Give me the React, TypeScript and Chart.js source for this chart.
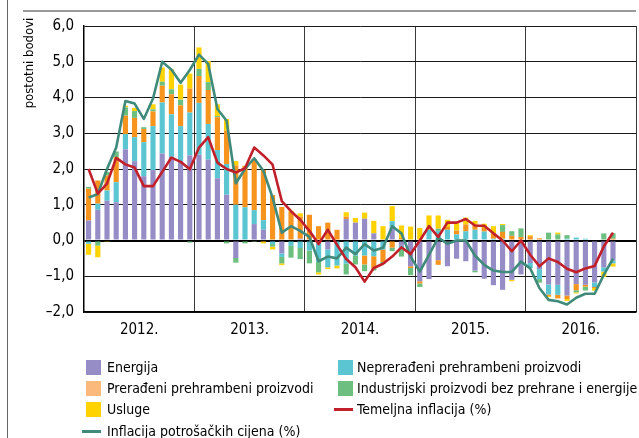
import { useEffect, useRef } from 'react';
import { Chart, registerables } from 'chart.js';

Chart.register(...registerables);

const years = ['2012.', '2013.', '2014.', '2015.', '2016.'];
const monthNames = ['sij', 'velj', 'ožu', 'tra', 'svi', 'lip', 'srp', 'kol', 'ruj', 'lis', 'stu', 'pro'];
const months = years.flatMap((y) => monthNames.map((m) => `${m} ${y}`));

const yTicks = [-2, -1, 0, 1, 2, 3, 4, 5, 6];

const energija = [
  0.56, 0.86, 1.11, 1.07, 2.55, 2.22, 1.8, 1.97, 2.43, 2.34, 2.22, 2.38,
  2.4, 2.26, 1.74, 1.28, -0.49, 0, 0.46, 0.3, 0, -0.36, 0, 0.05,
  0, 0, -0.25, 0, 0.6, 0.5, 0.61, 0.2, 0, 0.37, -0.15, -0.72,
  -1.14, -1.08, -0.55, -0.72, -0.51, -0.58, -0.84, -1.07, -1.25, -1.38, -1.1, -0.95,
  -0.63, -0.8, -1.23, -1.24, -1.54, -1.22, -1.24, -1.17, -0.75, -0.56,
];
const neprerađeni = [
  -0.09, 0.17, 0.29, 0.56, 0.43, 0.67, 0.95, 1.23, 1.43, 1.19, 0.98, 1.2,
  1.45, 1.0, 0.79, 0.86, 1.0, 0.93, 0.39, 0.27, -0.1, -0.1, -0.15, -0.21,
  -0.28, -0.6, -0.5, -0.7, -0.65, -0.42, -0.42, -0.44, -0.25, 0.17, -0.1, 0,
  0, 0.3, 0.27, 0.3, 0.17, 0.26, 0.3, 0.25, 0.05, 0.05, 0, 0,
  -0.14, -0.28, -0.28, -0.28, 0.05, 0.08, 0.05, -0.13, -0.12, -0.08,
];
const prerađeni = [
  0.89, 0.65, 0.42, 0.7, 0.51, 0.54, 0.37, 0.41, 0.47, 0.56, 0.58, 0.67,
  0.75, 0.95, 0.92, 0.93, 1.1, 1.16, 1.43, 1.4, 1.27, 0.94, 0.8, 0.62,
  0.72, 0.4, 0.5, 0.3, 0.07, 0, -0.25, -0.35, -0.35, -0.2, 0.07, -0.05,
  -0.06, 0, -0.13, 0.08, 0.11, 0.19, 0.15, 0.1, 0.15, 0.19, 0.13, 0.1,
  0.12, 0.06, -0.04, -0.1, -0.1, -0.17, -0.05, -0.03, 0, 0.05,
];
const industrijski = [
  0.05, -0.14, 0.1, 0.16, 0.23, 0.19, 0.05, 0.06, 0.11, 0.14, 0.16, -0.06,
  0.2, 0.22, 0.03, -0.08, -0.13, -0.08, -0.04, 0, -0.07, -0.18, -0.33, -0.31,
  -0.36, -0.29, 0, 0, -0.3, -0.25, -0.19, -0.05, -0.06, -0.1, -0.2, -0.2,
  -0.1, 0, 0.06, 0, 0, 0, -0.05, 0, 0, 0.19, 0.13, 0.24,
  0, -0.1, 0.22, 0.17, 0.1, -0.06, -0.11, 0, 0.2, 0.15,
];
const usluge = [
  -0.31, -0.33, -0.02, 0, 0.05, 0.09, 0, 0.14, 0.4, 0.56, 0.42, 0.42,
  0.6, 0.59, 0.33, 0.33, 0.12, 0, 0, -0.08, -0.08, -0.05, 0.03, 0.09,
  0, -0.06, -0.05, -0.08, 0.12, 0.13, 0.17, 0.35, 0.4, 0.42, 0.35, 0.39,
  0.35, 0.4, 0.37, 0.2, 0.22, 0.19, 0.1, 0.12, 0.2, 0.03, -0.04, 0,
  0.03, 0, -0.03, 0.05, -0.05, -0.03, 0, -0.07, -0.15, -0.09,
];
const temeljna = [
  2.0, 1.31, 1.59, 2.31, 2.13, 2.04, 1.52, 1.52, 1.92, 2.32, 2.2, 1.99,
  2.6, 2.89, 2.18, 2.0, 1.9, 2.02, 2.6, 2.38, 2.12, 1.1, 0.82, 0.58,
  0.27, -0.1, 0.3, -0.12, -0.52, -0.75, -1.15, -0.77, -0.65, -0.45, -0.19, -0.38,
  0.0, 0.4, 0.1, 0.5, 0.5, 0.6, 0.42, 0.41, 0.2, 0.0, -0.3, 0.0,
  -0.4, -0.72, -0.5, -0.6, -0.79, -0.89, -0.78, -0.71, -0.17, 0.22,
];
const potrosacke = [
  1.2, 1.3, 2.0, 2.6, 3.9, 3.83, 3.4, 3.97, 5.0, 4.78, 4.41, 4.77,
  5.2, 4.94, 3.68, 3.35, 1.6, 2.0, 2.3, 1.95, 1.2, 0.22, 0.4, 0.27,
  0.1, -0.58, -0.45, -0.5, -0.2, -0.38, -0.1, -0.28, -0.2, 0.4, 0.2, -0.45,
  -0.87, -0.4, 0.08, -0.09, 0, 0, -0.42, -0.68, -0.84, -0.88, -0.88, -0.59,
  -0.78, -1.33, -1.66, -1.7, -1.79, -1.6, -1.49, -1.49, -0.96, -0.51,
];

const FONT = "'DejaVu Sans Condensed', 'Liberation Sans', Arial, sans-serif";

const C_ENERGY = '#978dc6';
const C_UNPROC = '#5bc6d1';
const C_PROC = '#f7941e';
const C_PROC_LEG = '#fbb97c';
const C_IND = '#6dbf80';
const C_SERV = '#ffd200';
const C_CORE = '#c1202b';
const C_CPI = '#3f8a7b';

const decorPlugin = {
  id: 'decor',
  afterDraw(chart: any) {
    const ctx = chart.ctx as CanvasRenderingContext2D;
    ctx.save();
    ctx.strokeStyle = '#666';
    ctx.lineWidth = 1;
    ctx.beginPath();
    ctx.moveTo(7.5, 0);
    ctx.lineTo(7.5, 438);
    ctx.stroke();
    ctx.strokeStyle = '#777';
    ctx.lineWidth = 1.5;
    ctx.beginPath();
    ctx.moveTo(23, 11);
    ctx.lineTo(636, 11);
    ctx.stroke();

    ctx.fillStyle = '#000';
    ctx.font = `13px ${FONT}`;
    ctx.textAlign = 'center';
    ctx.textBaseline = 'middle';
    ctx.save();
    ctx.translate(30, 63);
    ctx.rotate(-Math.PI / 2);
    ctx.fillText('postotni bodovi', 0, 0);
    ctx.restore();

    const rows = [367, 388, 409, 431];
    const lx = 86, tx = 107, rx = 338, rtx = 357;
    ctx.textAlign = 'left';
    ctx.font = `14px ${FONT}`;
    const sw = (x: number, y: number, c: string) => {
      ctx.fillStyle = c;
      ctx.fillRect(x, y - 7, 15, 15);
    };
    const ln = (x: number, y: number, c: string) => {
      ctx.strokeStyle = c;
      ctx.lineWidth = 3;
      ctx.beginPath();
      ctx.moveTo(x - 4, y + 0.5);
      ctx.lineTo(x + 15, y + 0.5);
      ctx.stroke();
    };
    const txt = (s: string, x: number, y: number) => {
      ctx.fillStyle = '#000';
      ctx.fillText(s, x, y + 1);
    };
    sw(lx, rows[0], C_ENERGY); txt('Energija', tx, rows[0]);
    sw(rx, rows[0], C_UNPROC); txt('Neprerađeni prehrambeni proizvodi', rtx, rows[0]);
    sw(lx, rows[1], C_PROC_LEG); txt('Prerađeni prehrambeni proizvodi', tx, rows[1]);
    sw(rx, rows[1], C_IND); txt('Industrijski proizvodi bez prehrane i energije', rtx, rows[1]);
    sw(lx, rows[2], C_SERV); txt('Usluge', tx, rows[2]);
    ln(rx, rows[2], C_CORE); txt('Temeljna inflacija (%)', rtx, rows[2]);
    ln(lx, rows[3], C_CPI); txt('Inflacija potrošačkih cijena (%)', tx, rows[3]);
    ctx.restore();
  },
};

export default function App() {
  const ref = useRef<HTMLCanvasElement | null>(null);
  useEffect(() => {
    if (!ref.current) return;
    const barDs = (label: string, data: number[], color: string) => ({
      type: 'bar' as const,
      label,
      data,
      backgroundColor: color,
      borderWidth: 0,
      xAxisID: 'x',
      yAxisID: 'y',
      stack: 'bars',
      order: 2,
      categoryPercentage: 1,
      barPercentage: 0.56,
    });
    const chart = new Chart(ref.current, {
      type: 'bar',
      data: {
        labels: months,
        datasets: [
          {
            type: 'line',
            label: 'Temeljna inflacija (%)',
            data: temeljna,
            borderColor: C_CORE,
            borderWidth: 2.6,
            pointRadius: 0,
            tension: 0,
            xAxisID: 'x',
            yAxisID: 'y2',
            order: 0,
            borderJoinStyle: 'round',
          } as any,
          {
            type: 'line',
            label: 'Inflacija potrošačkih cijena (%)',
            data: potrosacke,
            borderColor: C_CPI,
            borderWidth: 2.6,
            pointRadius: 0,
            tension: 0,
            xAxisID: 'x',
            yAxisID: 'y2',
            order: 1,
            borderJoinStyle: 'round',
          } as any,
          barDs('Energija', energija, C_ENERGY),
          barDs('Neprerađeni prehrambeni proizvodi', neprerađeni, C_UNPROC),
          barDs('Prerađeni prehrambeni proizvodi', prerađeni, C_PROC),
          barDs('Industrijski proizvodi bez prehrane i energije', industrijski, C_IND),
          barDs('Usluge', usluge, C_SERV),
        ],
      },
      options: {
        responsive: false,
        animation: false,
        devicePixelRatio: 1,
        layout: { padding: { top: 26, right: 3, left: 0, bottom: 0 } },
        plugins: { legend: { display: false }, tooltip: { enabled: false } },
        scales: {
          x: { type: 'category', display: false, stacked: true, offset: true },
          x2: {
            type: 'category',
            labels: years,
            position: 'bottom',
            offset: true,
            grid: { offset: true, color: '#3a3a3a', lineWidth: 1, drawTicks: false },
            border: { display: true, color: '#000', width: 1.5 },
            ticks: { color: '#000', padding: 9, font: { family: FONT, size: 15 } },
            afterFit: (s: any) => { s.height = 126; },
          },
          y: {
            stacked: true,
            min: -2,
            max: 6,
            afterBuildTicks: (s: any) => { s.ticks = yTicks.map((v) => ({ value: v })); },
            ticks: {
              color: '#000',
              padding: 10,
              font: { family: FONT, size: 15 },
              callback: (v: any) => (Number(v) < 0 ? '–' : '') + Math.abs(Number(v)).toFixed(1).replace('.', ','),
            },
            grid: {
              drawTicks: false,
              color: (c: any) => (c.tick && c.tick.value === 0 ? '#000' : '#1a1a1a'),
              lineWidth: (c: any) => (c.tick && c.tick.value === 0 ? 2 : 1),
            },
            border: { display: true, color: '#000', width: 1.5 },
            afterFit: (s: any) => { s.width = 84; },
          },
          y2: { display: false, min: -2, max: 6 },
        },
      } as any,
      plugins: [decorPlugin],
    });
    return () => chart.destroy();
  }, []);
  return (
    <div style={{ position: 'fixed', left: 0, top: 0, width: 639, height: 438, background: '#fff' }}>
      <canvas ref={ref} width={639} height={438} style={{ width: 639, height: 438, display: 'block' }} />
    </div>
  );
}
